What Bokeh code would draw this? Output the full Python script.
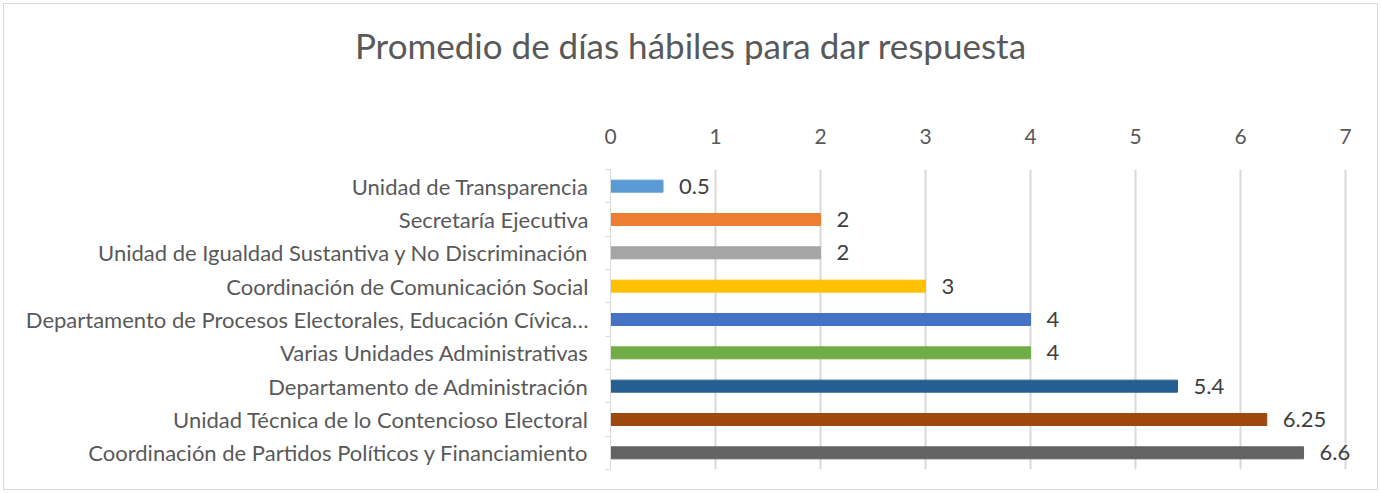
from bokeh.plotting import figure
from bokeh.models import Range1d, FixedTicker, ColumnDataSource, Div
from bokeh.layouts import column
from bokeh.embed import file_html
from bokeh.resources import INLINE
from bokeh.core.properties import value

title_text = "Promedio de días hábiles para dar respuesta"
categories = [
    "Unidad de Transparencia",
    "Secretaría Ejecutiva",
    "Unidad de Igualdad Sustantiva y No Discriminación",
    "Coordinación de Comunicación Social",
    "Departamento de Procesos Electorales, Educación Cívica…",
    "Varias Unidades Administrativas",
    "Departamento de Administración",
    "Unidad Técnica de lo Contencioso Electoral",
    "Coordinación de Partidos Políticos y Financiamiento",
]
values = [0.5, 2, 2, 3, 4, 4, 5.4, 6.25, 6.6]
labels = ["0.5", "2", "2", "3", "4", "4", "5.4", "6.25", "6.6"]
colors = ["#5B9BD5", "#ED7D31", "#A5A5A5", "#FFC000", "#4472C4",
          "#70AD47", "#255E91", "#9E480E", "#636363"]
x_ticks = [0, 1, 2, 3, 4, 5, 6, 7]

FONT = "Lato"
n = len(categories)
ypos = [n - i - 0.5 for i in range(n)]

src = ColumnDataSource(dict(y=ypos, v=values, c=colors, lab=labels))

title_div = Div(
    text=('<div style="width:1373px; text-align:center; font-family:Lato; font-size:35px; '
          'color:#595959; line-height:42px; padding-top:20px; white-space:nowrap;">'
          + title_text + '</div>'),
    width=1373, height=118, margin=0)

p = figure(width=1373, height=367, output_backend="svg", toolbar_location=None,
           x_range=Range1d(0, 7.295), y_range=Range1d(0, n),
           x_axis_location="above", min_border_left=606, min_border_right=1,
           min_border_top=47, min_border_bottom=20)

p.hbar(y="y", right="v", left=0, height=0.36, color="c", source=src)
p.text(x="v", y="y", text="lab", source=src, x_offset=16, text_baseline="middle",
       text_font=value(FONT), text_font_size="22px", text_color="#404040")

p.xaxis.ticker = FixedTicker(ticks=x_ticks)
p.xaxis.axis_line_color = None
p.xaxis.major_tick_line_color = None
p.xaxis.minor_tick_line_color = None
p.xaxis.major_label_text_font = FONT
p.xaxis.major_label_text_font_size = "21px"
p.xaxis.major_label_text_color = "#595959"
p.xaxis.major_label_standoff = 20

p.yaxis.ticker = FixedTicker(ticks=ypos, minor_ticks=list(range(n + 1)))
p.yaxis.major_label_overrides = {y: c for y, c in zip(ypos, categories)}
p.yaxis.axis_line_color = "#D9D9D9"
p.yaxis.major_tick_line_color = None
p.yaxis.minor_tick_line_color = "#D9D9D9"
p.yaxis.minor_tick_out = 5
p.yaxis.minor_tick_in = 0
p.yaxis.major_tick_out = 0
p.yaxis.major_label_standoff = 17
p.yaxis.major_label_text_font = FONT
p.yaxis.major_label_text_font_size = "22px"
p.yaxis.major_label_text_color = "#595959"

p.xgrid.ticker = FixedTicker(ticks=x_ticks[1:])
p.xgrid.grid_line_color = "#D9D9D9"
p.xgrid.grid_line_width = 2
p.ygrid.grid_line_color = None
p.outline_line_color = None

layout = column(title_div, p, spacing=0,
                styles={"border": "1px solid #D9D9D9", "margin": "3px"})

open("out.html", "w").write(file_html(layout, INLINE))
